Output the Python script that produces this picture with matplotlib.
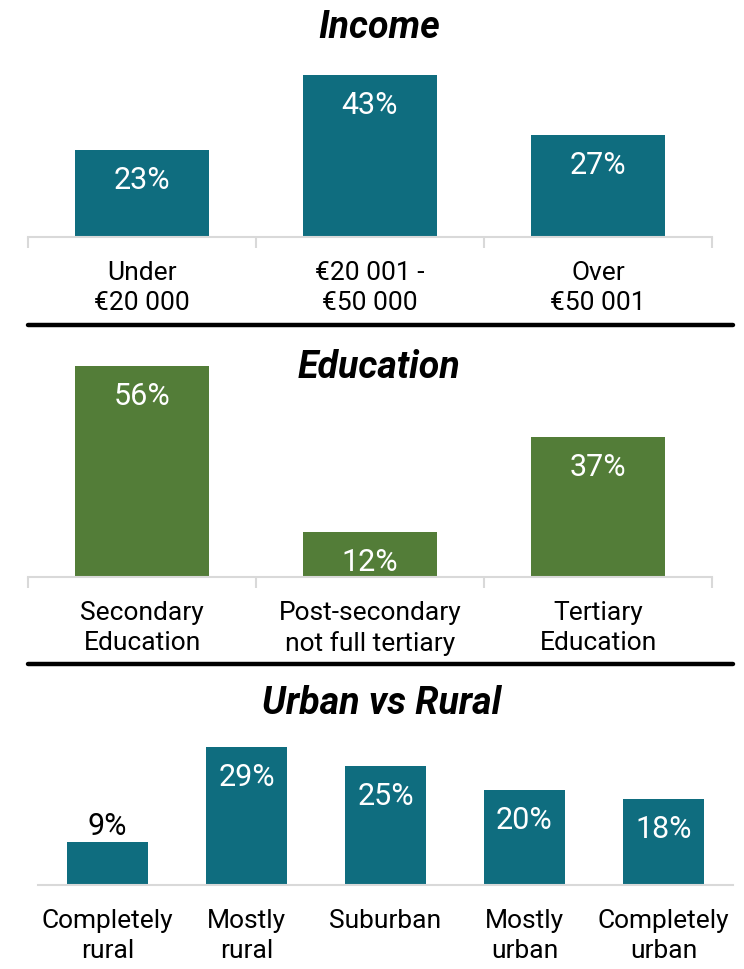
import matplotlib
matplotlib.use("Agg")
import matplotlib.pyplot as plt
from matplotlib.lines import Line2D

plt.rcParams["font.family"] = ["Roboto", "DejaVu Sans"]

income_labels = ["Under\n€20 000", "€20 001 -\n€50 000", "Over\n€50 001"]
income_values = [23, 43, 27]

education_labels = ["Secondary\nEducation", "Post-secondary\nnot full tertiary", "Tertiary\nEducation"]
education_values = [56, 12, 37]

urban_labels = ["Completely\nrural", "Mostly\nrural", "Suburban", "Mostly\nurban", "Completely\nurban"]
urban_values = [9, 29, 25, 20, 18]

TEAL = "#0f6d7f"
GREEN = "#537d38"
GRID = "#d9d9d9"

W, H = 744, 969
fig = plt.figure(figsize=(W / 100, H / 100), dpi=100)


def px_axes(x0, x1, base, top):
    # pixel coords (from top-left) -> figure fraction
    return fig.add_axes([x0 / W, (H - base) / H, (x1 - x0) / W, (base - top) / H])


def panel(ax, labels, values, color, ymax, width, boundary_ticks, inside_min=10):
    n = len(values)
    xs = list(range(n))
    ax.bar(xs, values, width=width, color=color, zorder=2)
    ax.set_xlim(-0.5, n - 0.5)
    ax.set_ylim(0, ymax)
    for s in ["top", "left", "right"]:
        ax.spines[s].set_visible(False)
    ax.spines["bottom"].set_color(GRID)
    ax.spines["bottom"].set_linewidth(1.5)
    ax.set_yticks([])
    ax.set_xticks(xs)
    ax.set_xticklabels(labels, fontsize=19, linespacing=1.33)
    ax.tick_params(axis="x", which="major", length=0, pad=17)
    if boundary_ticks:
        ax.set_xticks([i - 0.5 for i in range(n + 1)], minor=True)
        ax.tick_params(axis="x", which="minor", length=8, width=1.5, color=GRID)
    # value labels
    for x, v in zip(xs, values):
        if v >= inside_min:
            ax.annotate(f"{v}%", (x, v), xytext=(0, -22), textcoords="offset points",
                        ha="center", va="center", color="white", fontsize=22)
        else:
            ax.annotate(f"{v}%", (x, v), xytext=(0, 11), textcoords="offset points",
                        ha="center", va="center", color="black", fontsize=22)


ax1 = px_axes(28, 712, 237, 67)
panel(ax1, income_labels, income_values, TEAL, 45, 0.59, True)

ax2 = px_axes(28, 712, 577, 358)
panel(ax2, education_labels, education_values, GREEN, 58, 0.59, True)

ax3 = px_axes(38, 733, 885, 742)
panel(ax3, urban_labels, urban_values, TEAL, 30, 0.585, False)

title_kw = dict(ha="center", va="center", fontsize=27, fontweight="bold", fontstyle="italic")
fig.text(379 / W, 1 - 27 / H, "Income", **title_kw)
fig.text(379 / W, 1 - 367 / H, "Education", **title_kw)
fig.text(382 / W, 1 - 704 / H, "Urban vs Rural", **title_kw)

for y in [325, 664]:
    fig.add_artist(Line2D([28 / W, 733 / W], [1 - y / H, 1 - y / H], color="black",
                          linewidth=3.2, solid_capstyle="round", transform=fig.transFigure))

fig.savefig("out.png", dpi=100)
